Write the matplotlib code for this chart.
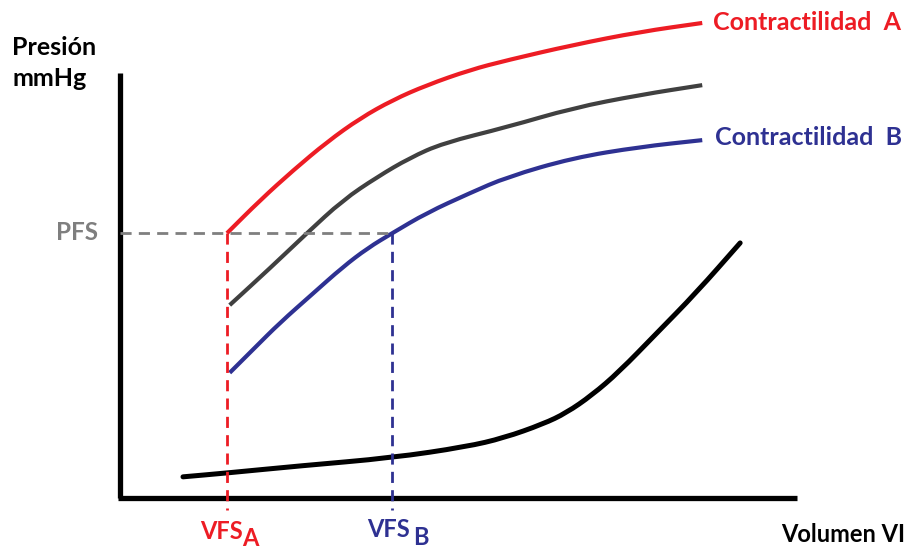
import matplotlib
matplotlib.use('Agg')
import matplotlib.pyplot as plt
from matplotlib.path import Path
from matplotlib.patches import PathPatch

# curvas presion-volumen (unidades relativas, ejes 0-100)
vol_a = [15.8, 20.7, 25.6, 30.6, 35.5, 40.3, 45.3, 51.7, 57.2, 66.9, 76.8, 86.0]
pres_a = [62.6, 70.4, 77.5, 84.2, 89.8, 94.1, 97.6, 101.2, 103.5, 107.1, 110.2, 112.3]

vol_mid = [16.2, 22.2, 27.6, 32.9, 38.0, 42.8, 47.7, 57.2, 66.9, 76.8, 86.0]
pres_mid = [45.6, 54.4, 62.6, 70.4, 75.9, 80.4, 83.9, 87.7, 92.2, 95.3, 97.6]

vol_b = [16.2, 19.9, 23.6, 28.4, 32.9, 36.6, 40.2, 45.3, 51.7, 57.2, 66.9, 76.8, 86.0]
pres_b = [29.6, 35.5, 41.4, 48.2, 54.6, 59.1, 62.6, 67.4, 72.1, 75.9, 80.4, 83.0, 84.6]

vol_dia = [9.3, 15.7, 26.6, 40.2, 51.1, 56.7, 62.5, 65.9, 69.7, 73.7, 79.3, 85.1, 91.6]
pres_dia = [5.0, 5.9, 7.6, 9.5, 12.1, 14.2, 17.5, 20.1, 24.3, 29.8, 39.0, 48.5, 60.3]

pfs = 62.6
vfs_a = 15.8
vfs_b = 40.2

red = '#ed1c24'
blue = '#2e3192'
dark = '#404040'
grey = '#7f7f7f'


def smooth(ax, x, y, **kw):
    # curva suave: puntos leidos como control, puntos medios como anclas
    verts = [(x[0], y[0]), ((x[0] + x[1]) / 2, (y[0] + y[1]) / 2)]
    codes = [Path.MOVETO, Path.LINETO]
    for i in range(1, len(x) - 1):
        verts += [(x[i], y[i]), ((x[i] + x[i + 1]) / 2, (y[i] + y[i + 1]) / 2)]
        codes += [Path.CURVE3, Path.CURVE3]
    verts.append((x[-1], y[-1]))
    codes.append(Path.LINETO)
    ax.add_patch(PathPatch(Path(verts, codes), fill=False, **kw))


fig = plt.figure(figsize=(9.14, 5.49), dpi=100)
ax = fig.add_axes([0, 0, 1, 1])
ax.set_xlim(-17.73, 117.28)
ax.set_ylim(-12.06, 117.73)
ax.axis('off')

# ejes
ax.plot([0, 0], [0, 100.5], color='black', lw=3.8, solid_capstyle='butt')
ax.plot([-0.3, 100], [0, 0], color='black', lw=3.8, solid_capstyle='butt')

# lineas de referencia
dash = (0, (4, 2.6))
ax.plot([0, vfs_b], [pfs, pfs], color=grey, lw=2, linestyle=dash)
ax.plot([vfs_a, vfs_a], [pfs, -2.8], color=red, lw=2, linestyle=dash)
ax.plot([vfs_b, vfs_b], [pfs, -2.8], color=blue, lw=2, linestyle=dash)

# curvas
smooth(ax, vol_dia, pres_dia, edgecolor='black', lw=3.6, capstyle='round')
smooth(ax, vol_a, pres_a, edgecolor=red, lw=3)
smooth(ax, vol_mid, pres_mid, edgecolor=dark, lw=3)
smooth(ax, vol_b, pres_b, edgecolor=blue, lw=3)

font = 'Lato'
kw = dict(fontweight='bold', family=font, va='baseline')
ax.text(-15.95, 104.7, 'Presión', fontsize=18, **kw)
ax.text(-15.95, 97.4, 'mmHg', fontsize=18, **kw)
ax.text(87.6, 110.6, 'Contractilidad  A', fontsize=18, color=red, **kw)
ax.text(87.9, 83.5, 'Contractilidad  B', fontsize=18, color=blue, **kw)
ax.text(-3.25, 61.0, 'PFS', fontsize=17.5, color=grey, ha='right', **kw)
ax.text(11.8, -9.6, 'VFS', fontsize=17, color=red, **kw)
ax.text(18.0, -11.4, 'A', fontsize=17, color=red, **kw)
ax.text(36.5, -9.2, 'VFS', fontsize=17, color=blue, **kw)
ax.text(43.3, -11.0, 'B', fontsize=17, color=blue, **kw)
ax.text(116.0, -10.4, 'Volumen VI', fontsize=17, ha='right', **kw)

fig.savefig('out.png', dpi=100)
